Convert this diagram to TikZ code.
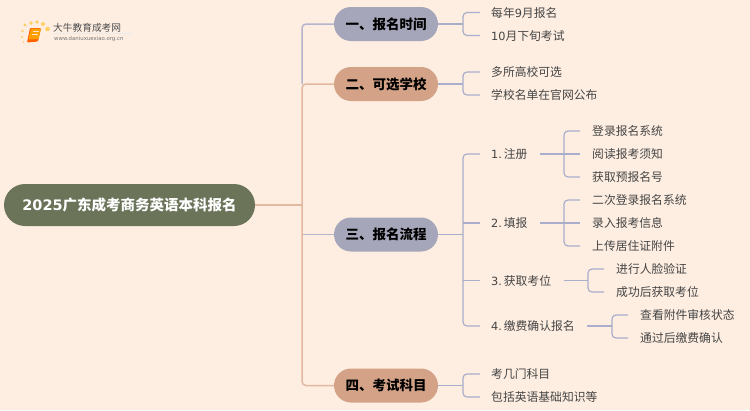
\documentclass[tikz,border=0pt]{standalone}
\usepackage{fontspec}
\setmainfont{DejaVu Sans}
\newfontfamily\cj{Noto Sans CJK SC}
\newcommand{\dv}[1]{{\rmfamily\fontsize{11.3}{14}\selectfont #1}}
\newcommand{\numgap}{\hspace{1.9pt}}
\definecolor{bgc}{HTML}{FEEEE2}
\definecolor{rootc}{HTML}{6B7359}
\definecolor{lav}{HTML}{A6A6BA}
\definecolor{sal}{HTML}{D3A287}
\definecolor{linesal}{HTML}{E2B8A0}
\definecolor{linelav}{HTML}{A9AECB}
\definecolor{linetop}{HTML}{B4B4CC}
\definecolor{txt}{HTML}{444444}
\definecolor{dotc}{HTML}{FFCF66}
\tikzset{
  x=1pt,y=-1pt,
  rootnode/.style={draw=none,fill=rootc,rounded corners=21pt,minimum width=251pt,minimum height=42pt,inner sep=0pt,text=white,font=\fontsize{14.5}{16}\selectfont\bfseries},
  branch/.style={fill=#1,rounded corners=17pt,minimum width=104pt,minimum height=34pt,inner sep=0pt,text=black,font=\fontsize{13.5}{16}\selectfont\cj\bfseries},
  leaf/.style={anchor=west,inner sep=0pt,text=txt,text height=10.5pt,text depth=1.5pt,font=\fontsize{11.8}{14}\selectfont\cj},
  lnk/.style={draw=linelav,line width=1.2pt,rounded corners=4pt},
  lnks/.style={draw=linesal,line width=1.5pt,rounded corners=4pt},
}
\begin{document}
\begin{tikzpicture}
\useasboundingbox[fill=bgc] (0,0) rectangle (750,410);
% logo
\foreach \a/\b/\r in {25/25/1.6,31/23/1.8,37/22/1.9,43/24/2,47.5/29/2.3,22.5/31/1.4,22/37/1.1,23.5/42/0.9}{
  \fill[dotc] (\a,\b) circle (\r pt);}
\draw[black!8,line width=.6pt] (53,33.5) -- (132,33.5);
\fill[orange!75!red,rounded corners=1pt] (30,28) -- (41,28) -- (38,41.5) -- (27,42.5) -- cycle;
\fill[orange!75!yellow,rounded corners=1pt] (31,28.5) -- (41,28.5) -- (38.5,39) -- (28.5,39.5) -- cycle;
\draw[white!80!orange,line width=.5pt] (32.5,31.5) -- (38.5,31.5) (32,34) -- (38,34);
\node[inner sep=0pt,anchor=west,text=black!70,font=\fontsize{9.7}{11}\selectfont\cj] (logot) at (53,27.5) {大牛教育成考网};
\node[inner sep=0pt,anchor=west,text=black!55,font=\fontsize{5.4}{6}\selectfont] (logou) at (54,39) {www.daniuxuexiao.org.cn};
% nodes
\node[rootnode] (root) at (129.5,205) {2025{\cj 广东成考商务英语本科报名}};
\node[branch=lav] (b1) at (386,24) {一、报名时间};
\node[branch=sal] (b2) at (386,84) {二、可选学校};
\node[branch=lav] (b3) at (386,234.5) {三、报名流程};
\node[branch=sal] (b4) at (386,385.5) {四、考试科目};
\node[leaf] (a1) at (491,12.5) {每年\dv{9}月报名};
\node[leaf] (a2) at (491,35.5) {\dv{10}月下旬考试};
\node[leaf] (c1) at (491,72) {多所高校可选};
\node[leaf] (c2) at (491,95) {学校名单在官网公布};
\node[leaf] (s1) at (491,154) {\dv{1.}\numgap 注册};
\node[leaf] (s2) at (491,223) {\dv{2.}\numgap 填报};
\node[leaf] (s3) at (491,280.5) {\dv{3.}\numgap 获取考位};
\node[leaf] (s4) at (491,326) {\dv{4.}\numgap 缴费确认报名};
\node[leaf] (s11) at (592,131) {登录报名系统};
\node[leaf] (s12) at (592,154) {阅读报考须知};
\node[leaf] (s13) at (592,177) {获取预报名号};
\node[leaf] (s21) at (592,200) {二次登录报名系统};
\node[leaf] (s22) at (592,223) {录入报考信息};
\node[leaf] (s23) at (592,246) {上传居住证附件};
\node[leaf] (s31) at (616,269) {进行人脸验证};
\node[leaf] (s32) at (616,292) {成功后获取考位};
\node[leaf] (s41) at (640,315) {查看附件审核状态};
\node[leaf] (s42) at (640,338) {通过后缴费确认};
\node[leaf] (d1) at (491,374) {考几门科目};
\node[leaf] (d2) at (491,397) {包括英语基础知识等};
% trunk
\draw[lnk,draw=linetop,line width=1.5pt] (b1.west) -- (302,24) -- (302,84);
\draw[lnk,draw=linetop] (b3.west) -- (302,234.5);
\draw[lnks] (b2.west) -- (302,84) -- (302,385.5) -- (b4.west);
\draw[lnks] (root.east) -- (302,205);
% brackets: first level
\draw[lnk] (b1.east) -- (463,24);
\draw[lnk] ([xshift=-11pt]a1.west) -- (463,12.5) -- (463,35.5) -- ([xshift=-11pt]a2.west);
\draw[lnk] (b2.east) -- (463,84);
\draw[lnk] ([xshift=-11pt]c1.west) -- (463,72) -- (463,95) -- ([xshift=-11pt]c2.west);
\draw[lnk] (b3.east) -- (463,234.5);
\draw[lnk] ([xshift=-11pt]s1.west) -- (463,154) -- (463,326) -- ([xshift=-11pt]s4.west);
\draw[lnk] (463,223) -- ([xshift=-11pt]s2.west);
\draw[lnk] (463,280.5) -- ([xshift=-11pt]s3.west);
\draw[lnk] (b4.east) -- (463,385.5);
\draw[lnk] ([xshift=-11pt]d1.west) -- (463,374) -- (463,397) -- ([xshift=-11pt]d2.west);
% brackets: second level
\draw[lnk] ([xshift=12.5pt]s1.east) -- ([xshift=-12pt]s12.west);
\draw[lnk] ([xshift=-12pt]s11.west) -- (564,131) -- (564,177) -- ([xshift=-12pt]s13.west);
\draw[lnk] ([xshift=12.5pt]s2.east) -- ([xshift=-12pt]s22.west);
\draw[lnk] ([xshift=-12pt]s21.west) -- (564,200) -- (564,246) -- ([xshift=-12pt]s23.west);
\draw[lnk] ([xshift=12.5pt]s3.east) -- (588,280.5);
\draw[lnk] ([xshift=-12pt]s31.west) -- (588,269) -- (588,292) -- ([xshift=-12pt]s32.west);
\draw[lnk] ([xshift=12.5pt]s4.east) -- (612,326);
\draw[lnk] ([xshift=-12pt]s41.west) -- (612,315) -- (612,338) -- ([xshift=-12pt]s42.west);
\end{tikzpicture}
\end{document}
